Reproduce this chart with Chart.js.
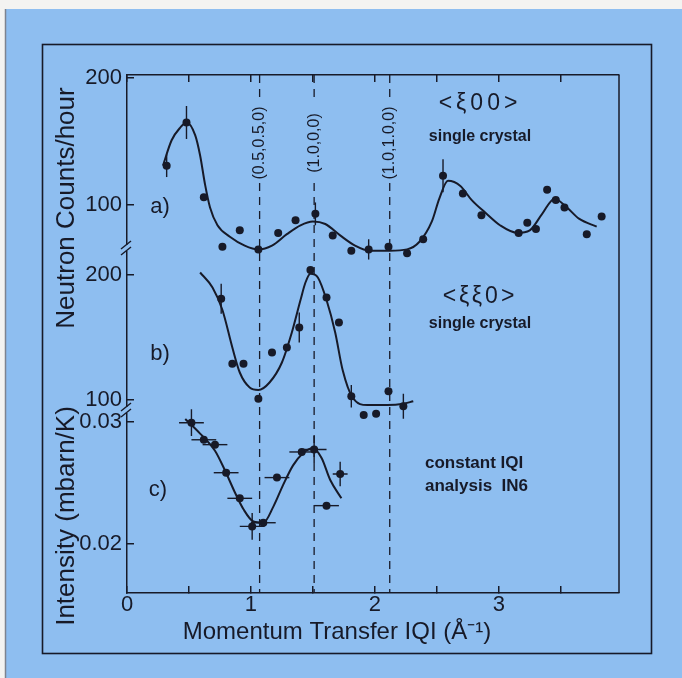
<!DOCTYPE html>
<html>
<head>
<meta charset="UTF-8">
<title>Momentum transfer scans</title>
<script src="https://cdn.jsdelivr.net/npm/chart.js"></script>
<style>
  html, body { margin: 0; padding: 0; background: #f3f3f1; }
  canvas { display: block; }
</style>
</head>
<body>
<canvas id="chart" width="682" height="678"></canvas>
<script>
// values
const xTicks = [0, 0.5, 1, 1.5, 2, 2.5, 3, 3.5];
const xTickLabels = ['0', '', '1', '', '2', '', '3', ''];

// a) <ξ00> single crystal (counts/hour)
const aQ      = [0.32, 0.48, 0.62, 0.77, 0.91, 1.06, 1.22, 1.36, 1.52, 1.66, 1.81, 1.95, 2.11, 2.26, 2.39, 2.55, 2.71, 2.86, 3.16, 3.23, 3.30, 3.39, 3.46, 3.53, 3.71, 3.83];
const aCounts = [131, 165, 106, 67, 80, 65, 78, 88, 93, 76, 64, 65, 67, 62, 73, 123, 109, 92, 78, 86, 81, 112, 104, 98, 77, 91];
const aErr    = [9, 13, 0, 0, 0, 0, 0, 0, 9, 0, 0, 8, 0, 0, 0, 13, 0, 0, 0, 0, 0, 0, 0, 0, 0, 0];
const aFitQ      = [0.29, 0.36, 0.43, 0.48, 0.55, 0.59, 0.63, 0.67, 0.73, 0.83, 0.95, 1.06, 1.17, 1.29, 1.40, 1.50, 1.60, 1.72, 1.84, 1.96, 2.12, 2.26, 2.36, 2.46, 2.52, 2.59, 2.69, 2.78, 2.89, 3.01, 3.15, 3.25, 3.35, 3.45, 3.55, 3.65, 3.79];
const aFitCounts = [131, 151, 161, 165, 155, 139, 116, 98, 84, 75, 68, 65, 68, 77, 84, 87, 85, 76, 68, 64, 64, 65, 71, 87, 105, 119, 115, 104, 94, 84, 78, 80, 93, 105, 98, 89, 83];
const aTicks = [100, 200];

// b) <ξξ0> single crystal (counts/hour)
const bQ      = [0.76, 0.85, 0.94, 1.06, 1.17, 1.29, 1.39, 1.48, 1.61, 1.71, 1.81, 1.91, 2.01, 2.11, 2.23];
const bCounts = [181, 129, 129, 101, 138, 142, 158, 204, 182, 162, 103, 88, 89, 107, 95];
const bErr    = [12, 0, 0, 0, 0, 0, 12, 0, 0, 0, 9, 0, 0, 0, 10];
const bFitQ      = [0.59, 0.69, 0.77, 0.85, 0.91, 0.99, 1.06, 1.15, 1.25, 1.33, 1.40, 1.44, 1.48, 1.54, 1.61, 1.68, 1.74, 1.82, 1.94, 2.10, 2.23, 2.31];
const bFitCounts = [202, 190, 172, 142, 122, 110, 108, 114, 130, 154, 180, 194, 201, 198, 180, 154, 124, 102, 96, 96, 97, 99];
const bTicks = [100, 200];

// c) constant |Q| analysis IN6 (mbarn/K)
const cQ         = [0.52, 0.62, 0.71, 0.80, 0.91, 1.01, 1.10, 1.21, 1.41, 1.51, 1.61, 1.72];
const cIntensity = [0.0299, 0.0285, 0.0281, 0.0258, 0.0237, 0.0214, 0.0217, 0.0254, 0.0275, 0.0277, 0.0231, 0.0257];
const cErrQ      = [0.1, 0.1, 0.1, 0.1, 0.1, 0.1, 0.1, 0.1, 0.1, 0.1, 0.1, 0.06];
const cErrI      = [0.0011, 0, 0, 0, 0, 0.0011, 0, 0, 0, 0.0011, 0, 0.001];
const cFitQ = [0.47, 0.59, 0.71, 0.79, 0.87, 0.94, 1.02, 1.10, 1.18, 1.26, 1.34, 1.42, 1.50, 1.57, 1.64, 1.73];
const cFitI = [0.0302, 0.0290, 0.0276, 0.0260, 0.0242, 0.0228, 0.0218, 0.0217, 0.0230, 0.0248, 0.0264, 0.0274, 0.0278, 0.0270, 0.0252, 0.0237];
const cTicks = [0.02, 0.03];
const cTickLabels = ['0.02', '0.03'];

// zone boundary positions
const zoneQ = [1.07, 1.51, 2.12];
const zoneLabels = ['(0.5,0.5,0)', '(1.0,0,0)', '(1.0,1.0,0)'];

const INK = '#171a28';
const BLUE = '#8ebef0';
const FONT = "'Liberation Sans', Arial, sans-serif";

function pts(q, v) {
  return q.map((x, i) => ({x: x, y: v[i]}));
}
function dots(q, v, axis, errX, errY) {
  return {
    data: pts(q, v), yAxisID: axis, showLine: false, clip: false,
    pointRadius: 4, pointBackgroundColor: INK, pointBorderWidth: 0,
    errX: errX, errY: errY
  };
}
function fit(q, v, axis) {
  return {
    data: pts(q, v), yAxisID: axis, showLine: true, clip: false,
    pointRadius: 0, borderColor: INK, borderWidth: 2,
    cubicInterpolationMode: 'monotone'
  };
}
function fixedTicks(values) {
  return function (scale) { scale.ticks = values.map(v => ({value: v})); };
}

const tickFont = {family: FONT, size: 22};
const grid = {drawOnChartArea: false, tickLength: -7, color: INK, lineWidth: 1.5};
const border = {color: INK, width: 1.5};

function yScale(ticks, labels, min, max, weight, stackWeight) {
  return {
    type: 'linear', position: 'left', stack: 'left', weight: weight, stackWeight: stackWeight,
    min: min, max: max,
    afterBuildTicks: fixedTicks(ticks),
    afterFit: function (s) { s.width = 127; },
    ticks: {
      font: tickFont, color: INK, padding: 12,
      callback: function (v) { const i = ticks.indexOf(v); return labels ? labels[i] : String(v); }
    },
    grid: grid, border: border
  };
}

const decor = {
  id: 'decor',
  beforeDraw(chart) {
    const ctx = chart.ctx;
    ctx.save();
    ctx.fillStyle = '#f3f3f1';
    ctx.fillRect(0, 0, chart.width, chart.height);
    ctx.fillStyle = BLUE;
    ctx.fillRect(6, 9, chart.width - 6, chart.height - 9);
    ctx.strokeStyle = '#7d838f';
    ctx.lineWidth = 1.5;
    ctx.beginPath(); ctx.moveTo(5.5, 9); ctx.lineTo(5.5, chart.height); ctx.stroke();
    ctx.strokeStyle = INK;
    ctx.lineWidth = 1.6;
    ctx.strokeRect(42.5, 44.5, 609, 609);
    ctx.restore();
  },
  beforeDatasetsDraw(chart) {
    const ctx = chart.ctx, area = chart.chartArea, x = chart.scales.x;
    ctx.save();
    ctx.strokeStyle = INK;
    ctx.fillStyle = INK;
    ctx.lineWidth = 1.3;
    ctx.setLineDash([8, 6]);
    zoneQ.forEach((q, i) => {
      const px = x.getPixelForValue(q);
      ctx.beginPath();
      ctx.moveTo(px, area.top); ctx.lineTo(px, 103);
      ctx.moveTo(px, 183); ctx.lineTo(px, area.bottom);
      ctx.stroke();
      ctx.save();
      ctx.translate(px, 143);
      ctx.rotate(-Math.PI / 2);
      ctx.font = '16px ' + FONT;
      ctx.textAlign = 'center';
      ctx.textBaseline = 'middle';
      ctx.fillText(zoneLabels[i], 0, 0);
      ctx.restore();
    });
    ctx.restore();
  },
  afterDatasetsDraw(chart) {
    const ctx = chart.ctx;
    ctx.save();
    ctx.strokeStyle = INK;
    ctx.lineWidth = 1.4;
    chart.data.datasets.forEach((ds, i) => {
      if (!ds.errX && !ds.errY) return;
      const meta = chart.getDatasetMeta(i);
      const xs = chart.scales[meta.xAxisID], ys = chart.scales[meta.yAxisID];
      ds.data.forEach((p, j) => {
        const px = xs.getPixelForValue(p.x), py = ys.getPixelForValue(p.y);
        const ex = ds.errX ? ds.errX[j] : 0, ey = ds.errY ? ds.errY[j] : 0;
        ctx.beginPath();
        if (ey) { ctx.moveTo(px, ys.getPixelForValue(p.y - ey)); ctx.lineTo(px, ys.getPixelForValue(p.y + ey)); }
        if (ex) { ctx.moveTo(xs.getPixelForValue(p.x - ex), py); ctx.lineTo(xs.getPixelForValue(p.x + ex), py); }
        ctx.stroke();
      });
    });
    ctx.restore();
  },
  afterDraw(chart) {
    const ctx = chart.ctx, area = chart.chartArea;
    ctx.save();
    ctx.strokeStyle = INK;
    ctx.lineWidth = 1.5;
    ctx.beginPath(); ctx.moveTo(area.right, area.top); ctx.lineTo(area.right, area.bottom); ctx.stroke();

    // axis breaks between the stacked panels
    [chart.scales.yb.top, chart.scales.yc.top].forEach(y => {
      const x = area.left;
      ctx.fillStyle = BLUE;
      ctx.fillRect(x - 2, y - 3, 4, 6);
      ctx.lineWidth = 1.4;
      [-3, 3].forEach(d => {
        ctx.beginPath(); ctx.moveTo(x - 6, y + d + 4); ctx.lineTo(x + 4, y + d - 4); ctx.stroke();
      });
    });

    ctx.fillStyle = INK;
    ctx.textBaseline = 'middle';
    // axis titles
    [['Neutron Counts/hour', 67, 208], ['Intensity (mbarn/K)', 67, 516]].forEach(t => {
      ctx.save();
      ctx.translate(t[1], t[2]);
      ctx.rotate(-Math.PI / 2);
      ctx.font = '26px ' + FONT;
      ctx.textAlign = 'center';
      ctx.fillText(t[0], 0, 0);
      ctx.restore();
    });
    ctx.textAlign = 'center';
    ctx.font = '24px ' + FONT;
    ctx.fillText('Momentum Transfer IQI (\u00c5\u207b\u00b9)', 337, 632);

    // panel notes
    const notes = [
      ['a)', 160, 207, '22px', 0], ['b)', 160, 354, '22px', 0], ['c)', 158, 490, '22px', 0],
      ['<\u03be00>', 480, 104, '23px', 4], ['single crystal', 480, 137, 'bold 16px', 0],
      ['<\u03be\u03be0>', 480, 297, '23px', 3], ['single crystal', 480, 324, 'bold 16px', 0]
    ];
    notes.forEach(n => {
      ctx.font = n[3] + ' ' + FONT;
      ctx.letterSpacing = n[4] + 'px';
      ctx.fillText(n[0], n[1], n[2]);
    });
    ctx.letterSpacing = '0px';
    ctx.textAlign = 'left';
    ctx.font = 'bold 17px ' + FONT;
    ctx.fillText('constant IQI', 425, 463);
    ctx.fillText('analysis  IN6', 425, 486);
    ctx.restore();
  }
};

new Chart(document.getElementById('chart'), {
  type: 'scatter',
  data: {
    datasets: [
      fit(aFitQ, aFitCounts, 'ya'),
      dots(aQ, aCounts, 'ya', null, aErr),
      fit(bFitQ, bFitCounts, 'yb'),
      dots(bQ, bCounts, 'yb', null, bErr),
      fit(cFitQ, cFitI, 'yc'),
      dots(cQ, cIntensity, 'yc', cErrQ, cErrI)
    ]
  },
  options: {
    responsive: false,
    animation: false,
    layout: {padding: {top: 75, right: 63, bottom: 0, left: 0}},
    plugins: {legend: {display: false}, tooltip: {enabled: false}},
    scales: {
      x: {
        type: 'linear', position: 'bottom', min: 0, max: 3.97,
        afterBuildTicks: fixedTicks(xTicks),
        afterFit: function (s) { s.height = 85; },
        ticks: {
          font: tickFont, color: INK, padding: 6, maxRotation: 0, autoSkip: false,
          callback: function (v) { return xTickLabels[xTicks.indexOf(v)]; }
        },
        grid: grid, border: border
      },
      x2: {
        type: 'linear', position: 'top', min: 0, max: 3.97,
        afterBuildTicks: fixedTicks(xTicks),
        afterFit: function (s) { s.height = 0; },
        ticks: {display: false},
        grid: grid, border: border
      },
      ya: yScale(aTicks, null, 66.1, 202.4, 3, 173),
      yb: yScale(bTicks, null, 92, 221.6, 2, 162),
      yc: yScale(cTicks, cTickLabels, 0.01594, 0.03094, 1, 183)
    }
  },
  plugins: [decor]
});
</script>
</body>
</html>
